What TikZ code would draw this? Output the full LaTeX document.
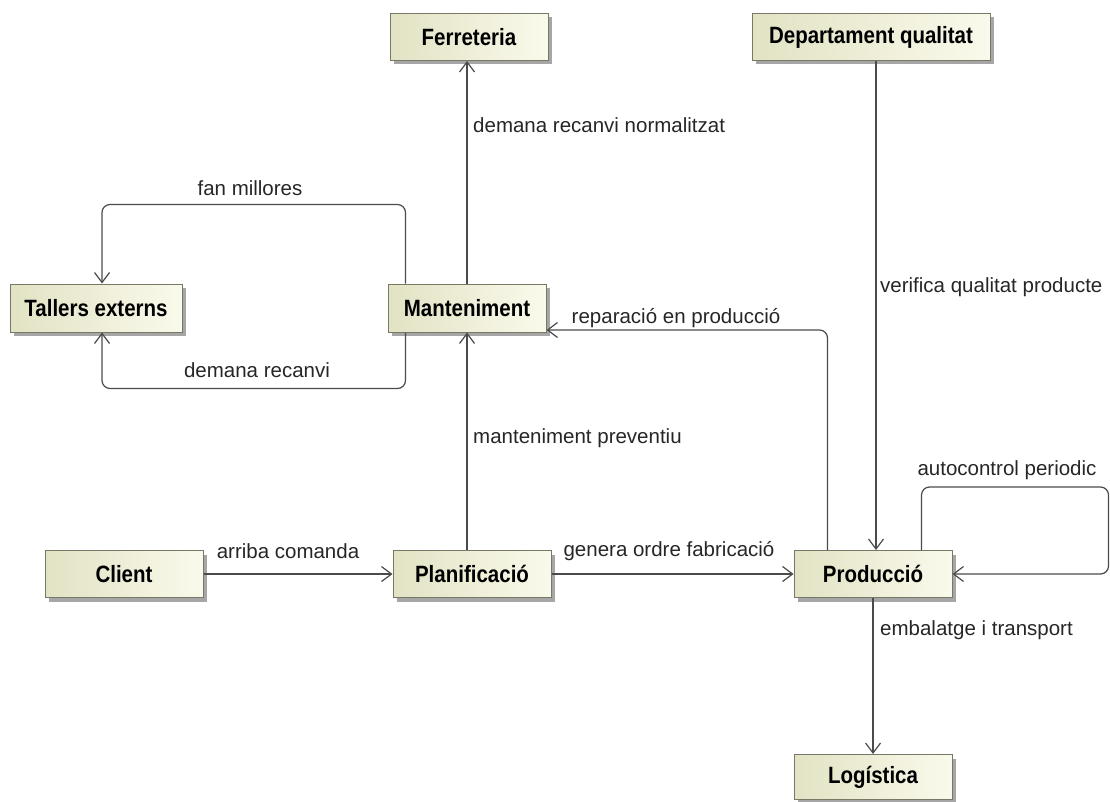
\documentclass[tikz,border=0pt]{standalone}
\usepackage{fontspec}
\setmainfont{Liberation Sans}
\usetikzlibrary{arrows.meta,shadows,calc}
\definecolor{boxedge}{RGB}{120,120,100}
\definecolor{boxleft}{RGB}{226,226,196}
\definecolor{boxright}{RGB}{250,250,236}
\definecolor{linecol}{RGB}{75,75,75}
% bold entity title, slightly stretched upwards
\newcommand{\boxtitle}[1]{\scalebox{1}[1.15]{#1}}
\tikzset{
  entity/.style={draw=boxedge, line width=1pt, left color=boxleft, right color=boxright,
    minimum width=158pt, minimum height=47pt, inner sep=0pt,
    font=\fontsize{20.5}{24}\selectfont\bfseries,
    drop shadow={shadow xshift=4pt, shadow yshift=-4pt, fill=black!35, opacity=1}},
  flow/.style={draw=linecol, line width=1.2pt, rounded corners=8pt,
    -{Straight Barb[length=10pt,width=15pt,line width=1.2pt]}},
  lbl/.style={font=\fontsize{20.5}{24}\selectfont, inner sep=0pt, text=black!85},
}
\begin{document}
\begin{tikzpicture}[x=1pt,y=-1pt]
\useasboundingbox (0,0) rectangle (1110,802);

% entities
\node[entity] (ferr) at (469,37) {\boxtitle{Ferreteria}};
\node[entity, minimum width=238pt] (dept) at (871,37) {\boxtitle{Departament qualitat}};
\node[entity, minimum width=172pt, minimum height=48pt] (tall) at (96,308) {\boxtitle{Tallers externs}};
\node[entity, minimum height=48pt] (mant) at (467,308) {\boxtitle{Manteniment}};
\node[entity] (cli) at (124,574) {\boxtitle{Client}};
\node[entity] (plan) at (472,574) {\boxtitle{Planificació}};
\node[entity] (prod) at (873,574) {\boxtitle{Producció}};
\node[entity, minimum height=45pt] (log) at (873,777) {\boxtitle{Logística}};

% flows
\draw[flow] (mant.north -| 467,0) -- (ferr.south -| 467,0);
\node[lbl, anchor=west] (l1) at (473,125) {demana recanvi normalitzat};

\draw[flow] ($(mant.north west)+(18,0)$) |- ($(tall.north)+(6,-79)$) -- ($(tall.north)+(6,0)$);
\node[lbl] (l2) at (250,188) {fan millores};

\draw[flow] ($(mant.south west)+(18,0)$) |- ($(tall.south)+(6,56)$) -- ($(tall.south)+(6,0)$);
\node[lbl] (l3) at (257,370) {demana recanvi};

\draw[flow] (plan.north -| 467,0) -- (mant.south -| 467,0);
\node[lbl, anchor=west] (l4) at (473,438) {manteniment preventiu};

\draw[flow] ($(prod.north west)+(34,0)$) |- ($(mant.east)+(0,22)$);
\node[lbl] (l5) at (676,318) {reparació en producció};

\draw[flow] (dept.south -| 876,0) -- (prod.north -| 876,0);
\node[lbl, anchor=west] (l6) at (880,287) {verifica qualitat producte};

\draw[flow] ($(prod.north east)+(-31,0)$) |- ($(prod.east)+(156,-87)$) |- (prod.east);
\node[lbl] (l7) at (1007,470) {autocontrol periodic};

\draw[flow] (cli) -- (plan);
\node[lbl] (l8) at (288,551) {arriba comanda};

\draw[flow] (plan) -- (prod);
\node[lbl] (l9) at (669,551) {genera ordre fabricació};

\draw[flow] (prod) -- (log);
\node[lbl, anchor=west] (l10) at (880,630) {embalatge i transport};
\end{tikzpicture}
\end{document}
